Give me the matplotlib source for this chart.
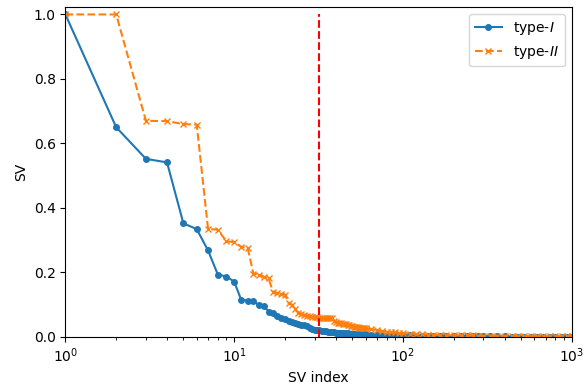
import matplotlib
matplotlib.use('Agg')
import matplotlib.pyplot as plt

# SV index: every index up to 60, then sampled points along the tail
sv_index = list(range(1, 61)) + [65, 70, 75, 80, 85, 90, 95, 100, 110, 120, 130, 140,
                                  150, 165, 180, 200, 220, 240, 260, 280, 300, 330, 360,
                                  400, 440, 480, 520, 570, 620, 680, 740, 800, 870, 940, 1000]

sv_type1 = [1.0, 0.65, 0.552, 0.541, 0.352, 0.334, 0.268, 0.193, 0.187, 0.171,
            0.115, 0.112, 0.110, 0.099, 0.096, 0.078, 0.075, 0.064, 0.058, 0.055,
            0.048, 0.046, 0.043, 0.040, 0.038, 0.037, 0.032, 0.027, 0.024, 0.022,
            0.021, 0.020, 0.019, 0.018, 0.017, 0.016, 0.016, 0.015, 0.014, 0.013,
            0.013, 0.012, 0.012, 0.012, 0.011, 0.011, 0.011, 0.010, 0.010, 0.010,
            0.010, 0.009, 0.009, 0.009, 0.009, 0.008, 0.008, 0.008, 0.008, 0.008,
            0.007, 0.007, 0.006, 0.006, 0.006, 0.005, 0.005, 0.004, 0.004, 0.003,
            0.003, 0.003, 0.002, 0.002, 0.002, 0.002, 0.001, 0.001, 0.001, 0.001,
            0.001, 0.001, 0.001, 0.001, 0.0, 0.0, 0.0, 0.0, 0.0, 0.0,
            0.0, 0.0, 0.0, 0.0, 0.0]

sv_type2 = [1.0, 1.0, 0.670, 0.669, 0.660, 0.658, 0.335, 0.332, 0.296, 0.294,
            0.279, 0.277, 0.196, 0.193, 0.186, 0.181, 0.138, 0.135, 0.133, 0.131,
            0.104, 0.100, 0.086, 0.075, 0.072, 0.068, 0.066, 0.063, 0.061, 0.060,
            0.060, 0.059, 0.059, 0.058, 0.058, 0.058, 0.057, 0.057, 0.048, 0.046,
            0.044, 0.043, 0.042, 0.041, 0.040, 0.039, 0.038, 0.036, 0.034, 0.033,
            0.031, 0.030, 0.029, 0.029, 0.028, 0.028, 0.027, 0.027, 0.026, 0.026,
            0.024, 0.020, 0.017, 0.016, 0.015, 0.014, 0.013, 0.012, 0.010, 0.009,
            0.008, 0.007, 0.006, 0.006, 0.005, 0.005, 0.004, 0.004, 0.004, 0.003,
            0.003, 0.003, 0.003, 0.003, 0.002, 0.002, 0.002, 0.002, 0.002, 0.002,
            0.002, 0.002, 0.002, 0.002, 0.002]

cutoff = 32

fig = plt.figure(figsize=(5.84, 3.88), dpi=100)
ax = fig.add_axes([0.112, 0.132, 0.867, 0.849])
ax.plot(sv_index, sv_type1, color='#1f77b4', linestyle='-', marker='o', markersize=4,
        label=r'type-$\mathit{I}$')
ax.plot(sv_index, sv_type2, color='#ff7f0e', linestyle='--', marker='x', markersize=4,
        label=r'type-$\mathit{II}$')
ax.vlines(cutoff, 0, 1, colors='red', linestyles='--', linewidth=1.5)
ax.set_xscale('log')
ax.set_xlim(1, 1000)
ax.set_ylim(0, 1.022)
ax.set_xlabel('SV index')
ax.set_ylabel('SV')
ax.legend(loc='upper right')
fig.savefig('out.png', dpi=100)
